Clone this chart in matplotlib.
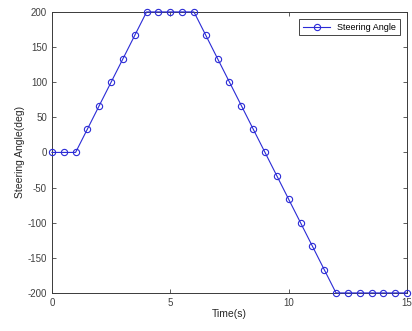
import numpy as np
import matplotlib
matplotlib.use("Agg")
import matplotlib.pyplot as plt

plt.rcParams['font.family'] = ['Liberation Sans', 'DejaVu Sans']
plt.rcParams['axes.unicode_minus'] = False

# steering command sampled every 0.5 s
time_s = [0, 0.5, 1, 1.5, 2, 2.5, 3, 3.5, 4, 4.5, 5, 5.5, 6, 6.5, 7, 7.5, 8,
          8.5, 9, 9.5, 10, 10.5, 11, 11.5, 12, 12.5, 13, 13.5, 14, 14.5, 15]
angle_deg = [0, 0, 0, 33.3, 66.7, 100, 133.3, 166.7, 200, 200, 200, 200, 200,
             166.7, 133.3, 100, 66.7, 33.3, 0, -33.3, -66.7, -100, -133.3,
             -166.7, -200, -200, -200, -200, -200, -200, -200]
x_ticks = [0, 5, 10, 15]
y_ticks = [-200, -150, -100, -50, 0, 50, 100, 150, 200]

fig = plt.figure(figsize=(4.12, 3.31), dpi=100)
ax = fig.add_axes([0.126, 0.115, 0.862, 0.849])

ax.plot(time_s, angle_deg, color='#2b2bd6', lw=0.8, marker='o', ms=4.5,
        mfc='none', mew=0.8, label='Steering Angle', clip_on=False, zorder=3)

ax.set_xlim(0, 15)
ax.set_ylim(-200, 200)
ax.set_xticks(x_ticks)
ax.set_yticks(y_ticks)
ax.tick_params(direction='in', length=3, width=0.6, colors='#404040',
               labelsize=7, top=True, right=True, labeltop=False, labelright=False)
for s in ax.spines.values():
    s.set_color('#3a3a3a')
    s.set_linewidth(0.7)

ax.set_xlabel('Time(s)', fontsize=7.5, color='#262626', labelpad=1)
ax.set_ylabel('Steering Angle(deg)', fontsize=7.5, color='#262626', labelpad=2)

leg = ax.legend(loc='upper right', fontsize=6.5, fancybox=False, framealpha=1,
                borderpad=0.4, handlelength=3, borderaxespad=0.8)
leg.get_frame().set_edgecolor('#262626')
leg.get_frame().set_linewidth(0.6)

fig.savefig('out.png', dpi=100)
